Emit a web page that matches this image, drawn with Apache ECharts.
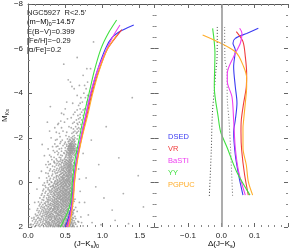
<!DOCTYPE html>
<html><head><meta charset="utf-8">
<script src="https://cdn.jsdelivr.net/npm/echarts@6/dist/echarts.min.js"></script>
<style>html,body{margin:0;padding:0;background:#fff}#c{width:291px;height:249px}</style>
</head><body><div id="c"></div>
<script>
const modelNames = ['DSED', 'VR', 'BaSTI', 'YY', 'PGPUC'];
const modelColors = ['#3b3bf2', '#f03c3c', '#ee3ff0', '#40e040', '#ffad2a'];

// Left panel isochrones: [(J-Ks)0, M_Ks]
const isoDSED = [[0.50,2.0],[0.55,1.5],[0.585,1.0],[0.60,0.5],[0.61,0],[0.65,-1],[0.71,-2],[0.775,-3],[0.845,-4],[0.93,-5],[1.04,-6],[1.13,-6.5],[1.25,-6.8],[1.42,-7.06]];
const isoVR = [[0.52,2.0],[0.565,1.5],[0.595,1.0],[0.61,0.5],[0.62,0],[0.66,-1],[0.72,-2],[0.79,-3],[0.86,-4],[0.95,-5],[1.07,-6],[1.26,-6.85]];
const isoBaSTI = [[0.53,2.0],[0.565,1.5],[0.59,1.0],[0.605,0.5],[0.615,0],[0.655,-1],[0.71,-2],[0.775,-3],[0.84,-4],[0.93,-5],[1.06,-6],[1.15,-6.6],[1.235,-7.06]];
const isoYY = [[0.436,2.0],[0.51,1.5],[0.565,1.0],[0.585,0.5],[0.595,0],[0.63,-1],[0.69,-2],[0.75,-3],[0.82,-4],[0.89,-5],[0.98,-6],[1.08,-6.7],[1.19,-7.28]];
const isoPGPUC = [[0.55,2.0],[0.58,1.5],[0.60,1.0],[0.615,0.5],[0.625,0],[0.665,-1],[0.725,-2],[0.80,-3],[0.87,-4],[0.955,-5],[1.07,-6],[1.19,-6.6]];

// Right panel differences: [Δ(J-Ks), M_Ks]
const deltaDSED = [[0.111,-6.91],[0.076,-6.68],[0.042,-6.46],[0.035,-6.24],[0.042,-5.94],[0.037,-5.19],[0.042,-4.29],[0.047,-3.56],[0.042,-2.80],[0.037,-2.27],[0.042,-1.23],[0.052,-0.33],[0.065,0.57]];
const deltaVR = [[0.045,-6.76],[0.065,-6.31],[0.072,-5.64],[0.076,-4.89],[0.075,-4.29],[0.067,-3.56],[0.060,-2.80],[0.059,-2.27],[0.061,-1.45],[0.070,-0.33],[0.081,0.57]];
const deltaBaSTI = [[0.055,-6.91],[0.062,-6.69],[0.057,-6.24],[0.037,-5.64],[0.018,-4.89],[0.018,-4.52],[0.032,-3.84],[0.037,-2.80],[0.042,-1.54],[0.052,-0.48],[0.072,0.57]];
const deltaYY = [[-0.026,-6.91],[-0.019,-5.80],[-0.021,-4.29],[-0.009,-2.90],[-0.002,-2.27],[0.018,-1.54],[0.046,-0.48],[0.086,0.57]];
const deltaPGPUC = [[-0.056,-6.61],[0.042,-5.86],[0.067,-5.19],[0.076,-4.68],[0.076,-4.29],[0.072,-3.56],[0.067,-2.80],[0.065,-2.44],[0.065,-1.54],[0.075,-0.78],[0.081,-0.03],[0.094,0.57]];
const sigmaLow = [[-0.012,-6.97],[-0.013,-5.49],[-0.016,-5.04],[-0.021,-4.14],[-0.027,-3.02],[-0.030,-1.45],[-0.036,0.65]];
const sigmaHigh = [[0.010,-6.97],[0.011,-5.49],[0.017,-5.04],[0.018,-3.70],[0.023,-2.80],[0.028,-1.45],[0.034,0.65]];

// Stars: rows of [M_Ks, [(J-Ks)0 ...]]
const starRows = [
 [1.98,[0.09,0.21,0.27,0.33,0.36,0.41,0.44,0.48,0.51,0.55,0.58,0.62]],
 [1.94,[0.14,0.24,0.30,0.34,0.39,0.43,0.46,0.50,0.53,0.57]],
 [1.89,[0.07,0.19,0.26,0.31,0.37,0.40,0.45,0.49,0.52,0.56,0.60]],
 [1.85,[0.12,0.22,0.28,0.35,0.38,0.42,0.47,0.51,0.54,0.59]],
 [1.80,[0.17,0.25,0.29,0.33,0.39,0.44,0.46,0.50,0.55,0.58,0.63]],
 [1.75,[0.10,0.20,0.27,0.32,0.36,0.41,0.45,0.48,0.53,0.57]],
 [1.70,[0.15,0.23,0.30,0.34,0.38,0.43,0.47,0.52,0.54,0.60]],
 [1.65,[0.08,0.18,0.26,0.31,0.37,0.40,0.44,0.49,0.51,0.56,0.59]],
 [1.60,[0.13,0.21,0.28,0.35,0.39,0.42,0.46,0.50,0.55,0.61]],
 [1.55,[0.19,0.24,0.29,0.33,0.38,0.45,0.48,0.53,0.57]],
 [1.50,[0.11,0.22,0.27,0.32,0.36,0.41,0.44,0.49,0.52,0.58]],
 [1.45,[0.16,0.25,0.30,0.34,0.40,0.43,0.47,0.51,0.54,0.60]],
 [1.40,[0.20,0.26,0.31,0.37,0.39,0.45,0.50,0.53,0.56]],
 [1.35,[0.14,0.23,0.28,0.35,0.38,0.42,0.46,0.49,0.55,0.59]],
 [1.30,[0.18,0.27,0.32,0.36,0.41,0.44,0.48,0.52,0.57]],
 [1.25,[0.12,0.21,0.29,0.34,0.39,0.43,0.47,0.51,0.54,0.61]],
 [1.20,[0.24,0.30,0.33,0.37,0.40,0.45,0.49,0.53,0.58]],
 [1.15,[0.17,0.26,0.31,0.36,0.42,0.46,0.50,0.55,0.57]],
 [1.10,[0.22,0.28,0.35,0.38,0.41,0.44,0.48,0.52,0.59]],
 [1.05,[0.15,0.25,0.32,0.37,0.43,0.47,0.51,0.54,0.56]],
 [1.00,[0.20,0.29,0.34,0.39,0.42,0.45,0.49,0.53,0.58]],
 [0.95,[0.23,0.31,0.36,0.40,0.44,0.48,0.52,0.55,0.60]],
 [0.90,[0.18,0.27,0.34,0.38,0.43,0.47,0.50,0.54,0.57]],
 [0.85,[0.26,0.32,0.37,0.41,0.46,0.49,0.53,0.56,0.62]],
 [0.80,[0.21,0.30,0.35,0.39,0.44,0.48,0.51,0.55,0.58]],
 [0.75,[0.28,0.33,0.38,0.42,0.45,0.50,0.54,0.57]],
 [0.70,[0.16,0.25,0.36,0.40,0.43,0.47,0.52,0.55,0.59]],
 [0.65,[0.30,0.34,0.39,0.44,0.49,0.51,0.56,0.61]],
 [0.60,[0.22,0.28,0.37,0.41,0.46,0.48,0.53,0.57]],
 [0.55,[0.32,0.36,0.40,0.43,0.47,0.50,0.54,0.58]],
 [0.50,[0.19,0.27,0.35,0.42,0.45,0.49,0.52,0.56,0.60]],
 [0.45,[0.31,0.38,0.41,0.44,0.48,0.53,0.55,0.59]],
 [0.40,[0.24,0.33,0.37,0.43,0.46,0.50,0.54,0.57]],
 [0.35,[0.29,0.35,0.40,0.45,0.49,0.52,0.56,0.61]],
 [0.30,[0.21,0.32,0.39,0.42,0.47,0.51,0.55,0.58]],
 [0.25,[0.27,0.36,0.41,0.44,0.48,0.53,0.57]],
 [0.20,[0.30,0.34,0.38,0.43,0.46,0.50,0.54,0.59]],
 [0.15,[0.23,0.33,0.40,0.45,0.49,0.52,0.56]],
 [0.10,[0.28,0.37,0.42,0.47,0.51,0.55,0.58]],
 [0.05,[0.35,0.39,0.44,0.48,0.50,0.54,0.57,0.62]],
 [0.00,[0.26,0.32,0.41,0.46,0.49,0.53,0.56]],
 [-0.05,[0.36,0.42,0.47,0.51,0.55,0.58]],
 [-0.10,[0.29,0.40,0.45,0.50,0.53,0.57]],
 [-0.15,[0.34,0.43,0.48,0.52,0.56,0.60]],
 [-0.20,[0.25,0.38,0.46,0.49,0.54,0.58]],
 [-0.25,[0.41,0.44,0.50,0.53,0.57]],
 [-0.30,[0.32,0.39,0.47,0.51,0.55,0.59]],
 [-0.35,[0.43,0.48,0.52,0.56,0.60]],
 [-0.40,[0.27,0.37,0.45,0.50,0.54,0.58]],
 [-0.45,[0.40,0.47,0.51,0.55,0.57]],
 [-0.50,[0.33,0.44,0.49,0.53,0.56,0.61]],
 [-0.55,[0.38,0.46,0.52,0.55,0.59]],
 [-0.60,[0.30,0.42,0.48,0.54,0.57]],
 [-0.65,[0.45,0.50,0.53,0.56,0.60]],
 [-0.70,[0.36,0.47,0.51,0.55,0.58]],
 [-0.75,[0.41,0.49,0.54,0.57,0.61]],
 [-0.80,[0.28,0.44,0.52,0.56,0.59]],
 [-0.85,[0.39,0.48,0.53,0.58]],
 [-0.90,[0.46,0.51,0.55,0.57,0.62]],
 [-0.95,[0.35,0.43,0.50,0.54,0.59]],
 [-1.00,[0.47,0.52,0.56,0.60]],
 [-1.05,[0.38,0.49,0.55,0.58]],
 [-1.10,[0.44,0.53,0.57,0.61]],
 [-1.15,[0.31,0.51,0.56,0.59]],
 [-1.20,[0.46,0.54,0.58,0.62]],
 [-1.25,[0.40,0.52,0.55,0.57,0.60,0.63]],
 [-1.30,[0.49,0.54,0.56,0.58,0.61,0.64]],
 [-1.35,[0.36,0.53,0.55,0.57,0.59,0.62]],
 [-1.40,[0.45,0.52,0.56,0.58,0.60,0.63,0.66]],
 [-1.45,[0.54,0.55,0.57,0.59,0.61,0.64]],
 [-1.50,[0.42,0.53,0.56,0.58,0.60,0.62]],
 [-1.55,[0.50,0.55,0.57,0.59,0.61,0.65]],
 [-1.60,[0.38,0.54,0.56,0.58,0.60,0.63]],
 [-1.65,[0.47,0.55,0.57,0.59,0.62]],
 [-1.70,[0.52,0.56,0.58,0.61,0.64]],
 [-1.75,[0.43,0.55,0.57,0.60]],
 [-1.80,[0.50,0.58,0.62]],
 [-1.85,[0.55,0.59,0.63]],
 [-1.90,[0.46,0.57,0.61]],
 [-1.95,[0.53,0.60,0.66]],
 [-2.00,[0.58,0.63]],
 [-2.10,[0.51,0.62,0.67]],
 [-2.20,[0.59,0.65]],
 [-2.30,[0.47,0.63,0.68]],
 [-2.40,[0.61,0.66,0.70]],
 [-2.50,[0.55,0.64]],
 [-2.60,[0.67,0.71]],
 [-2.70,[0.49,0.62,0.69]],
 [-2.80,[0.65,0.72]],
 [-2.90,[0.58,0.70]],
 [-3.00,[0.67,0.74]],
 [-3.15,[0.63,0.72]],
 [-3.30,[0.70,0.76]],
 [-3.45,[0.68]],
 [-3.60,[0.73,0.79]],
 [-3.80,[0.71,0.77]],
 [-4.00,[0.75]],
 [-4.20,[0.62,0.78]],
 [-4.50,[0.57,0.80]],
 [-4.80,[0.74]],
 [-5.10,[0.79,0.84]]
];
const starRows2 = [
 [1.975,[0.05,0.16,0.25,0.30,0.35,0.39,0.43,0.47,0.50,0.53,0.60,0.66]],
 [1.925,[0.11,0.18,0.28,0.32,0.37,0.42,0.45,0.49,0.55,0.61]],
 [1.875,[0.04,0.15,0.23,0.29,0.34,0.41,0.46,0.51,0.57,0.64]],
 [1.825,[0.09,0.20,0.26,0.31,0.37,0.43,0.48,0.52,0.56,0.61]],
 [1.775,[0.13,0.24,0.28,0.35,0.40,0.42,0.47,0.53,0.59,0.68]],
 [1.725,[0.06,0.17,0.25,0.33,0.39,0.45,0.50,0.55,0.62]],
 [1.675,[0.11,0.21,0.29,0.36,0.41,0.46,0.48,0.53,0.58]],
 [1.625,[0.16,0.24,0.32,0.37,0.43,0.47,0.52,0.57,0.64]],
 [1.575,[0.08,0.14,0.27,0.31,0.36,0.42,0.50,0.55,0.60]],
 [1.525,[0.18,0.25,0.30,0.35,0.39,0.46,0.51,0.56,0.63]],
 [1.475,[0.13,0.20,0.28,0.38,0.42,0.45,0.52,0.57]],
 [1.425,[0.10,0.23,0.29,0.33,0.41,0.48,0.55,0.59]],
 [1.375,[0.17,0.26,0.32,0.40,0.44,0.50,0.53,0.61]],
 [1.325,[0.21,0.25,0.30,0.37,0.43,0.47,0.55,0.60]],
 [1.275,[0.15,0.24,0.33,0.38,0.45,0.50,0.56]],
 [1.225,[0.19,0.27,0.35,0.41,0.44,0.48,0.52,0.62]],
 [1.175,[0.13,0.22,0.29,0.34,0.39,0.47,0.53,0.59]],
 [1.125,[0.20,0.31,0.36,0.40,0.45,0.51,0.57]],
 [1.075,[0.18,0.27,0.34,0.39,0.45,0.49,0.53,0.60]],
 [1.025,[0.24,0.30,0.36,0.41,0.47,0.51,0.55]],
 [0.975,[0.16,0.27,0.33,0.38,0.46,0.50,0.56,0.59]],
 [0.925,[0.22,0.30,0.36,0.41,0.45,0.52,0.55]],
 [0.875,[0.14,0.24,0.35,0.39,0.43,0.48,0.51,0.58]],
 [0.825,[0.28,0.33,0.40,0.46,0.50,0.53,0.57]],
 [0.775,[0.19,0.26,0.36,0.44,0.47,0.52,0.56,0.60]],
 [0.725,[0.31,0.38,0.41,0.46,0.49,0.53,0.57]],
 [0.675,[0.21,0.28,0.35,0.42,0.47,0.50,0.54,0.58]],
 [0.625,[0.33,0.39,0.43,0.45,0.51,0.55,0.59]],
 [0.575,[0.18,0.26,0.35,0.41,0.44,0.49,0.52,0.56]],
 [0.525,[0.30,0.38,0.47,0.51,0.54,0.57]],
 [0.475,[0.23,0.34,0.40,0.46,0.50,0.55,0.60]],
 [0.425,[0.29,0.36,0.42,0.48,0.52,0.56]],
 [0.375,[0.20,0.31,0.39,0.44,0.47,0.51,0.57]],
 [0.325,[0.27,0.37,0.43,0.50,0.53,0.60]],
 [0.275,[0.33,0.39,0.46,0.49,0.55,0.59]],
 [0.225,[0.24,0.35,0.41,0.47,0.52,0.57]],
 [0.175,[0.31,0.37,0.44,0.48,0.53,0.55]],
 [0.125,[0.20,0.34,0.40,0.45,0.50,0.56,0.60]],
 [0.075,[0.29,0.38,0.43,0.47,0.52,0.55]],
 [0.025,[0.22,0.36,0.40,0.45,0.51,0.58]],
 [-0.025,[0.31,0.39,0.44,0.49,0.53,0.56]],
 [-0.075,[0.26,0.37,0.43,0.48,0.52,0.55]],
 [-0.125,[0.39,0.46,0.50,0.54,0.59]],
 [-0.175,[0.30,0.42,0.47,0.52,0.55]],
 [-0.225,[0.35,0.45,0.48,0.56,0.60]],
 [-0.275,[0.28,0.38,0.46,0.52,0.54,0.58]],
 [-0.325,[0.42,0.49,0.53,0.57]],
 [-0.375,[0.33,0.44,0.48,0.55,0.59]],
 [-0.425,[0.24,0.39,0.46,0.52,0.56]],
 [-0.475,[0.36,0.43,0.50,0.54,0.58]],
 [-0.525,[0.29,0.41,0.48,0.55,0.57]],
 [-0.575,[0.35,0.45,0.51,0.56,0.60]],
 [-0.625,[0.39,0.47,0.52,0.58]],
 [-0.675,[0.26,0.43,0.49,0.54,0.57]],
 [-0.725,[0.33,0.45,0.53,0.56,0.60]],
 [-0.775,[0.38,0.48,0.51,0.55,0.58]],
 [-0.825,[0.30,0.42,0.50,0.54,0.57]],
 [-0.875,[0.36,0.45,0.52,0.56,0.61]],
 [-0.925,[0.27,0.41,0.49,0.55,0.58]],
 [-0.975,[0.39,0.46,0.53,0.57]],
 [-1.025,[0.32,0.44,0.51,0.56,0.60]],
 [-1.125,[0.35,0.42,0.50,0.55,0.58]],
 [-1.225,[0.29,0.44,0.51,0.56]],
 [-1.325,[0.41,0.48,0.52,0.57,0.60]],
 [-1.425,[0.34,0.50,0.55,0.57,0.59,0.62]],
 [-1.525,[0.45,0.54,0.57,0.59,0.61,0.63]],
 [-1.625,[0.40,0.52,0.55,0.58,0.61]],
 [-1.725,[0.36,0.49,0.57,0.59,0.63]],
 [-1.825,[0.44,0.54,0.60]],
 [-1.925,[0.39,0.56,0.62]],
 [-2.05,[0.43,0.55,0.60]],
 [-2.25,[0.38,0.52,0.61,0.66]],
 [-2.45,[0.45,0.58,0.68]],
 [-2.65,[0.41,0.60,0.66]],
 [-2.85,[0.53,0.68]],
 [-3.05,[0.48,0.61,0.70]],
 [-3.25,[0.66,0.74]],
 [-3.55,[0.60,0.70]],
 [-3.90,[0.66,0.80]],
 [-4.35,[0.69,0.76]]
];
// Scattered field stars: [(J-Ks)0, M_Ks]
const fieldStars = [[0.33,-1.6],[0.37,-1.9],[0.29,-2.3],[0.40,-2.6],[0.35,-0.9],[0.22,-1.2],[0.45,-3.1],[0.52,-3.6],[0.18,-0.5],[0.12,0.3],[0.09,0.9],[0.05,1.6],[0.03,1.9],[0.81,1.46],[0.91,0.2],[1.13,1.24],[1.17,1.7],[1.55,1.1],[0.95,-0.8],[0.76,0.9],[0.72,1.8],[1.28,0.5],[1.05,-2.5],[0.85,-1.9],[1.40,-3.8],[1.48,-0.3],[0.88,-6.3],[0.66,-5.6],[0.54,-4.6],[0.59,-4.3],[0.62,-6.8],[1.35,1.85],[0.70,0.4],[0.68,-0.6],[0.74,-1.3],[0.02,1.2],[0.27,-1.5],[0.31,-2.0],[0.42,-2.2],[0.39,-1.4],[0.24,-0.8],[0.15,-0.2],[0.66,1.3],[0.69,0.9],[0.78,-0.2],[1.02,0.7],[1.22,-1.1],[0.98,1.9],[0.30,-3.4],[0.48,-5.3],[0.67,1.75],[0.71,1.55],[0.64,1.12],[0.74,1.95],[0.86,1.8],[0.63,0.75],[0.69,-0.15],[0.26,-2.7],[0.36,-2.45],[0.19,-1.7],[0.44,-2.75],[0.50,-3.3]];

const leftXTicks = [0.0, 0.5, 1.0, 1.5];
const rightXTicks = [-0.1, 0.0, 0.1];
const yTicks = [-8, -6, -4, -2, 0, 2];

const toPts = rows => rows.flatMap(([m, cs]) => cs.map(c => [c, m]));
const stars = toPts(starRows).concat(toPts(starRows2), fieldStars);
const isoSets = [isoDSED, isoVR, isoBaSTI, isoYY, isoPGPUC];
const deltaSets = [deltaDSED, deltaVR, deltaBaSTI, deltaYY, deltaPGPUC];

const FONT = '"Liberation Sans", Arial, sans-serif';
const minus = s => s.replace('-', '\u2212');
const pick = (list, v) => list.find(t => Math.abs(t - v) < 1e-6);

function xAx(grid, pos, min, max, interval, minorSplit, ticks, lineColor) {
  return {
    type: 'value', gridIndex: grid, position: pos, min, max, interval,
    axisLine: { show: !!lineColor, onZero: false, lineStyle: { color: lineColor || '#fff', width: 1 } },
    axisTick: { show: true, inside: true, length: 4, lineStyle: { color: '#666' } },
    minorTick: { show: true, splitNumber: minorSplit, length: 2, lineStyle: { color: '#888' } },
    splitLine: { show: false }, minorSplitLine: { show: false },
    axisLabel: {
      show: !!ticks, margin: 5, fontSize: 8, color: '#222', fontFamily: FONT,
      formatter: v => { const t = ticks ? pick(ticks, v) : undefined; return t === undefined ? '' : minus(t.toFixed(1)); }
    }
  };
}
const sub = { fontSize: 5.5, fontFamily: FONT, color: '#222', verticalAlign: 'bottom', lineHeight: 7 };
const main = { fontSize: 8, fontFamily: FONT, color: '#222', lineHeight: 10 };
function yAx(grid, pos, labels, lineColor) {
  const ax = {
    type: 'value', gridIndex: grid, position: pos, min: -8, max: 2, interval: 2, inverse: true,
    axisLine: { show: !!lineColor, onZero: false, lineStyle: { color: lineColor || '#fff', width: 1 } },
    axisTick: { show: true, inside: true, length: 4, lineStyle: { color: '#666' } },
    minorTick: { show: true, splitNumber: 4, length: 2, lineStyle: { color: '#888' } },
    splitLine: { show: false }, minorSplitLine: { show: false },
    axisLabel: {
      show: labels, margin: 5, fontSize: 8, color: '#222', fontFamily: FONT,
      formatter: v => { const t = pick(yTicks, v); return t === undefined ? '' : minus(String(t)); }
    }
  };
  if (labels) {
    ax.name = '{a|M}{s|Ks}';
    ax.nameLocation = 'middle';
    ax.nameRotate = 90;
    ax.nameGap = 14;
    ax.nameTextStyle = { rich: { a: main, s: sub } };
  }
  return ax;
}

const series = [{
  type: 'scatter', xAxisIndex: 0, yAxisIndex: 0, data: stars, symbolSize: 1.8,
  itemStyle: { color: '#999' }, silent: true, z: 1
}];
modelNames.forEach((n, i) => series.push({
  type: 'line', name: n, xAxisIndex: 0, yAxisIndex: 0, data: isoSets[i], showSymbol: false,
  smooth: 0.2, lineStyle: { color: modelColors[i], width: 1.1 }, itemStyle: { color: modelColors[i] }, z: 3, silent: true
}));
series.push({
  type: 'line', xAxisIndex: 2, yAxisIndex: 2, data: sigmaLow, showSymbol: false, smooth: 0.3,
  lineStyle: { color: '#444', width: 1, type: [1, 2] }, silent: true, z: 2,
  markLine: { symbol: 'none', silent: true, label: { show: false }, data: [{ xAxis: 0 }],
    lineStyle: { color: '#999', type: 'solid', width: 1.6 } }
});
series.push({
  type: 'line', xAxisIndex: 2, yAxisIndex: 2, data: sigmaHigh, showSymbol: false, smooth: 0.3,
  lineStyle: { color: '#777', width: 1, type: [1, 2] }, silent: true, z: 2
});
modelNames.forEach((n, i) => series.push({
  type: 'line', name: n, xAxisIndex: 2, yAxisIndex: 2, data: deltaSets[i], showSymbol: false,
  smooth: 0.3, lineStyle: { color: modelColors[i], width: 1.1 }, itemStyle: { color: modelColors[i] }, z: 3, silent: true
}));

const ann = { fontSize: 7.5, fontFamily: FONT, color: '#222', lineHeight: 10 };
const annSub = { fontSize: 5.2, fontFamily: FONT, color: '#222', verticalAlign: 'bottom', lineHeight: 6 };

const chart = echarts.init(document.getElementById('c'), null, { renderer: 'canvas' });
chart.setOption({
  animation: false,
  backgroundColor: '#fff',
  grid: [
    { left: 22, top: 4, width: 132.6, height: 223 },
    { left: 154.6, top: 4, width: 136, height: 223 }
  ],
  xAxis: [
    xAx(0, 'bottom', 0, 1.7, 0.5, 5, leftXTicks, null),
    xAx(0, 'top', 0, 1.7, 0.5, 5, null, '#555'),
    xAx(1, 'bottom', -0.2, 0.2, 0.1, 5, rightXTicks, null),
    xAx(1, 'top', -0.2, 0.2, 0.1, 5, null, '#555')
  ],
  yAxis: [
    yAx(0, 'left', true, '#555'),
    yAx(0, 'right', false, null),
    yAx(1, 'left', false, null),
    yAx(1, 'right', false, null)
  ],
  legend: {
    orient: 'vertical', left: 158, top: 128, itemWidth: 0, itemHeight: 8, itemGap: 4,
    selectedMode: false,
    textStyle: { fontSize: 7.5, fontFamily: FONT },
    data: modelNames.map((n, i) => ({ name: n, icon: 'none', textStyle: { color: modelColors[i] } }))
  },
  graphic: [
    { type: 'text', left: 27, top: 9, style: { text: "NGC5927  R<2.5'", font: '7.5px ' + FONT, fill: '#222' } },
    { type: 'text', left: 27, top: 18, style: { text: '{a|(m\u2212M)}{s|0}{a|=14.57}', rich: { a: ann, s: annSub } } },
    { type: 'text', left: 27, top: 28, style: { text: 'E(B\u2212V)=0.399', font: '7.5px ' + FONT, fill: '#222' } },
    { type: 'text', left: 27, top: 37, style: { text: '[Fe/H]=\u22120.29', font: '7.5px ' + FONT, fill: '#222' } },
    { type: 'text', left: 27, top: 46, style: { text: '[\u03b1/Fe]=0.2', font: '7.5px ' + FONT, fill: '#222' } },
    { type: 'text', left: 74, top: 240, style: { text: '{a|(J\u2212K}{s|s}{a|)}{s|0}', rich: { a: main, s: sub } } },
    { type: 'text', left: 208, top: 240, style: { text: '{a|\u0394(J\u2212K}{s|s}{a|)}', rich: { a: main, s: sub } } }
  ],
  series
});
</script></body></html>
